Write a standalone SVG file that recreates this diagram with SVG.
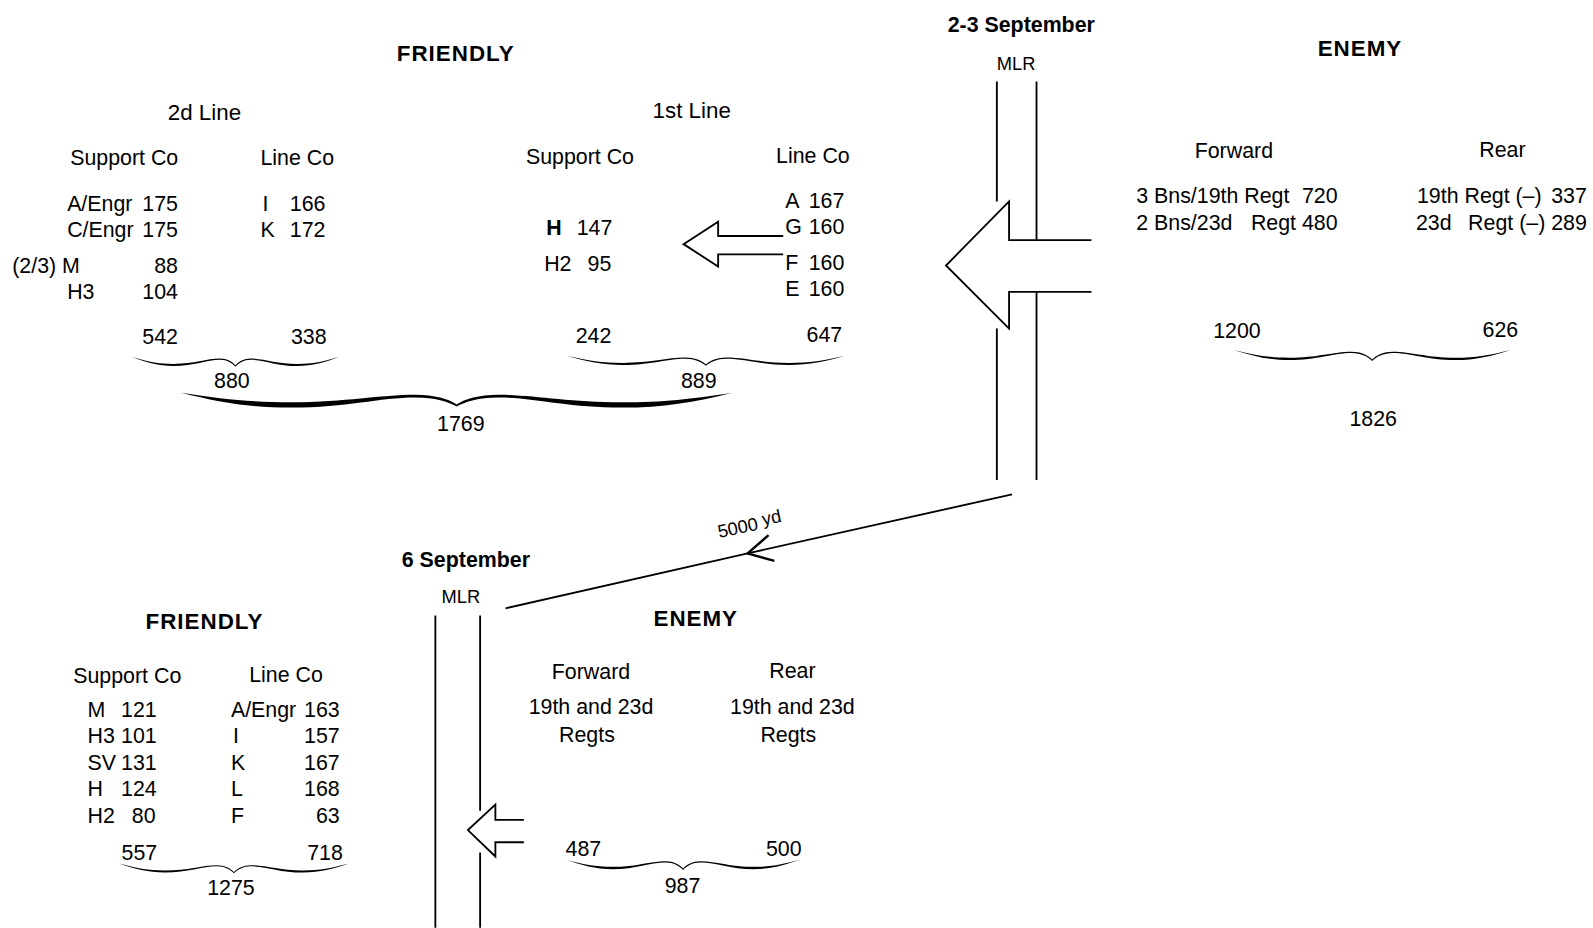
<svg xmlns="http://www.w3.org/2000/svg" width="1593" height="928" viewBox="0 0 1593 928">
<style>
text{font-family:"Liberation Sans",Arial,sans-serif;font-size:21px;fill:#000}
.m{text-anchor:middle}
.e{text-anchor:end}
.h{font-weight:bold;font-size:22px;letter-spacing:1px}
.d{font-weight:bold;font-size:21px}
.s{font-size:18px}
.sub{font-size:22px}
.ln{stroke:#000;stroke-width:1.8;fill:none}
</style>
<defs>
<path id="brace" d="M0,0 C15,6 25,9 40,9 C60,9 72,2 85,2 C92,2 97,6 100,11 C103,6 108,2 115,2 C128,2 140,9 160,9 C175,9 185,6 200,0 C186,7 175,11.8 160,11.8 C140,11.8 128,3.6 115,3.6 C108,3.6 103,8 100,12.8 C97,8 92,3.6 85,3.6 C72,3.6 60,11.8 40,11.8 C25,11.8 14,7 0,0 Z"/>
<path id="braceBig" d="M0,0 C15,6 25,9 40,9 C60,9 72,2 85,2 C92,2 97,6 100,11 C103,6 108,2 115,2 C128,2 140,9 160,9 C175,9 185,6 200,0 C186,9 175,14 160,14 C140,14 128,4.5 115,4.5 C108,4.5 103,8.5 100,13 C97,8.5 92,4.5 85,4.5 C72,4.5 60,14 40,14 C25,14 14,9 0,0 Z"/>
<marker id="chev" markerUnits="userSpaceOnUse" markerWidth="40" markerHeight="40" refX="0" refY="0" viewBox="-30 -20 40 40" orient="auto">
<path d="M-24,-13 L0,0 L-24,13" fill="none" stroke="#000" stroke-width="2.4"/>
</marker>
</defs>
<rect width="1593" height="928" fill="#fff"/>
<g transform="scale(1.0172)">

<g id="connectors">
<path class="ln" d="M980,80 V198 M980,323 V472 M1019,80 V236 M1019,287 V472"/>
<path class="ln" d="M428,605 V912 M472,605 V797 M472,838 V912"/>
<path id="arrow-enemy-top" class="ln" d="M1073,236 H992 V198 L930,261 L992,323 V287 H1073"/>
<path id="arrow-first-line" class="ln" d="M770,232 H706 V218 L672,240 L706,262 V250 H770"/>
<path id="arrow-enemy-bottom" class="ln" d="M515,806 H487 V791 L460,816 L487,842 V828 H515"/>
<path id="withdrawal" class="ln" d="M995,486 L735,544 L497,598" marker-mid="url(#chev)"/>
<text x="707" y="529" class="s" transform="rotate(-12 707 529)">5000 <tspan dy="-3">yd</tspan></text>
</g>

<g id="top-headings">
<text x="448" y="60" class="m h">FRIENDLY</text>
<text x="1004" y="31" class="m d">2-3 September</text>
<text x="999" y="69" class="m s">MLR</text>
<text x="1337" y="55" class="m h">ENEMY</text>
</g>

<g id="friendly-2d-line">
<text x="201" y="118" class="m sub">2d Line</text>
<text x="69" y="162">Support Co</text>
<text x="256" y="162">Line Co</text>
<text x="66" y="207">A/Engr</text><text x="175" y="207" class="e">175</text>
<text x="66" y="233">C/Engr</text><text x="175" y="233" class="e">175</text>
<text x="12" y="268">(2/3) M</text><text x="175" y="268" class="e">88</text>
<text x="66" y="294">H3</text><text x="175" y="294" class="e">104</text>
<text x="258" y="207">I</text><text x="320" y="207" class="e">166</text>
<text x="256" y="233">K</text><text x="320" y="233" class="e">172</text>
<text x="175" y="338" class="e">542</text>
<text x="321" y="338" class="e">338</text>
<use href="#brace" transform="translate(130,351) scale(1.015,0.75)"/>
<text x="228" y="381" class="m">880</text>
</g>

<g id="friendly-1st-line">
<text x="680" y="116" class="m sub">1st Line</text>
<text x="517" y="161">Support Co</text>
<text x="763" y="160">Line Co</text>
<text x="537" y="231" font-weight="bold">H</text><text x="602" y="231" class="e">147</text>
<text x="535" y="266">H2</text><text x="601" y="266" class="e">95</text>
<text x="772" y="204">A</text><text x="795" y="204">167</text>
<text x="772" y="230">G</text><text x="795" y="230">160</text>
<text x="772" y="265">F</text><text x="795" y="265">160</text>
<text x="772" y="291">E</text><text x="795" y="291">160</text>
<text x="601" y="337" class="e">242</text>
<text x="828" y="336" class="e">647</text>
<use href="#brace" transform="translate(558,350) scale(1.36,0.75)"/>
<text x="687" y="381" class="m">889</text>
</g>

<g id="friendly-total-top">
<use href="#braceBig" transform="translate(178,386) scale(2.71,1.05)"/>
<text x="453" y="424" class="m">1769</text>
</g>

<g id="enemy-top">
<text x="1213" y="155" class="m">Forward</text>
<text x="1477" y="154" class="m">Rear</text>
<text x="1117" y="200">3 Bns/19th Regt</text><text x="1315" y="200" class="e">720</text>
<text x="1117" y="226">2 Bns/23d</text><text x="1315" y="226" class="e">Regt 480</text>
<text x="1393" y="200">19th Regt (–)</text><text x="1560" y="200" class="e">337</text>
<text x="1392" y="226">23d</text><text x="1560" y="226" class="e">Regt (–) 289</text>
<text x="1216" y="332" class="m">1200</text>
<text x="1475" y="331" class="m">626</text>
<use href="#brace" transform="translate(1213,344) scale(1.36,0.85)"/>
<text x="1350" y="419" class="m">1826</text>
</g>

<g id="bottom-headings">
<text x="395" y="557" class="d">6 September</text>
<text x="453" y="593" class="m s">MLR</text>
<text x="201" y="618" class="m h">FRIENDLY</text>
<text x="684" y="615" class="m h">ENEMY</text>
</g>

<g id="friendly-bottom">
<text x="72" y="671">Support Co</text>
<text x="245" y="670">Line Co</text>
<text x="86" y="705">M</text><text x="119" y="705">121</text>
<text x="86" y="730">H3</text><text x="119" y="730">101</text>
<text x="86" y="757">SV</text><text x="119" y="757">131</text>
<text x="86" y="783">H</text><text x="119" y="783">124</text>
<text x="86" y="809">H2</text><text x="153" y="809" class="e">80</text>
<text x="227" y="705">A/Engr</text><text x="334" y="705" class="e">163</text>
<text x="229" y="730">I</text><text x="334" y="730" class="e">157</text>
<text x="227" y="757">K</text><text x="334" y="757" class="e">167</text>
<text x="227" y="783">L</text><text x="334" y="783" class="e">168</text>
<text x="227" y="809">F</text><text x="334" y="809" class="e">63</text>
<text x="137" y="845" class="m">557</text>
<text x="337" y="845" class="e">718</text>
<use href="#brace" transform="translate(117,849) scale(1.13,0.75)"/>
<text x="227" y="880" class="m">1275</text>
</g>

<g id="enemy-bottom">
<text x="581" y="668" class="m">Forward</text>
<text x="779" y="667" class="m">Rear</text>
<text x="581" y="702" class="m">19th and 23d</text>
<text x="577" y="729" class="m">Regts</text>
<text x="779" y="702" class="m">19th and 23d</text>
<text x="775" y="729" class="m">Regts</text>
<text x="556" y="842">487</text>
<text x="788" y="842" class="e">500</text>
<use href="#brace" transform="translate(556,845) scale(1.155,0.8)"/>
<text x="671" y="878" class="m">987</text>
</g>
</g>
</svg>
